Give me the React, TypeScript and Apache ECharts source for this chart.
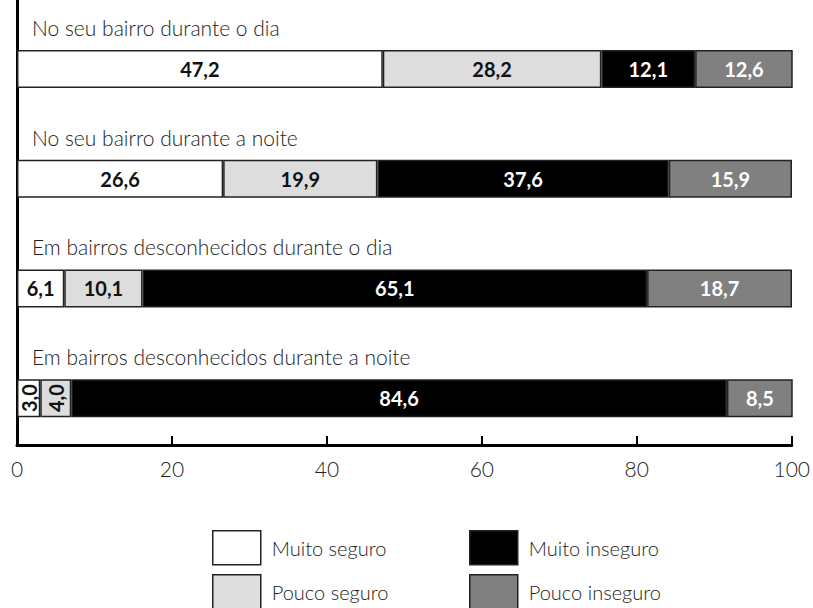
import React, { useEffect, useRef } from "react";
import * as echarts from "echarts";

const categories = [
  "No seu bairro durante o dia",
  "No seu bairro durante a noite",
  "Em bairros desconhecidos durante o dia",
  "Em bairros desconhecidos durante a noite",
];
const seriesNames = ["Muito seguro", "Pouco seguro", "Muito inseguro", "Pouco inseguro"];
const muitoSeguro = [47.2, 26.6, 6.1, 3.0];
const poucoSeguro = [28.2, 19.9, 10.1, 4.0];
const muitoInseguro = [12.1, 37.6, 65.1, 84.6];
const poucoInseguro = [12.6, 15.9, 18.7, 8.5];
const xTicks = [0, 20, 40, 60, 80, 100];

const colors = ["#ffffff", "#dddddd", "#000000", "#808080"];
const labelColors = ["#111111", "#111111", "#ffffff", "#ffffff"];
const FONT = "Lato, 'Open Sans', sans-serif";
const legendSlots = [
  { left: 212, top: 530 },
  { left: 212, top: 574 },
  { left: 469, top: 530 },
  { left: 469, top: 574 },
];

export default function App() {
  const ref = useRef<HTMLDivElement>(null);
  useEffect(() => {
    if (!ref.current) return;
    const chart = echarts.init(ref.current, null, { renderer: "svg" });
    const values = [muitoSeguro, poucoSeguro, muitoInseguro, poucoInseguro];
    const series = seriesNames.map((name, i) => ({
      name,
      type: "bar",
      stack: "total",
      xAxisIndex: 1,
      yAxisIndex: 1,
      barWidth: 38,
      itemStyle: { color: colors[i], borderColor: "#222", borderWidth: 1.5 },
      label: {
        show: true,
        position: "inside",
        color: labelColors[i],
        fontFamily: FONT,
        fontWeight: "bold",
        fontSize: 20,
        formatter: (p: any) => Number(p.value).toFixed(1).replace(".", ","),
      },
      data: values[i].map((v) =>
        v < 5 ? { value: v, label: { rotate: 90 } } : { value: v }
      ),
    }));
    const legends = seriesNames.map((name, i) => ({
      data: [name],
      left: legendSlots[i].left,
      top: legendSlots[i].top,
      padding: 0,
      itemWidth: 48,
      itemHeight: 34,
      icon: "rect",
      textStyle: { fontSize: 20, color: "#222", fontFamily: FONT, fontWeight: 300, padding: [0, 0, 0, 6] },
      itemStyle: { borderColor: "#222", borderWidth: 1.5 },
    }));
    chart.setOption({
      animation: false,
      textStyle: { fontFamily: FONT },
      grid: [
        { left: 17, right: 21, top: 0, bottom: 163 },
        { left: 17, right: 21, top: 14, bottom: 155 },
      ],
      xAxis: [
        {
          type: "value",
          gridIndex: 0,
          min: 0,
          max: 100,
          interval: 20,
          axisLine: { show: true, lineStyle: { color: "#000", width: 3 } },
          axisTick: { show: true, inside: true, length: 9, lineStyle: { color: "#000", width: 2 } },
          splitLine: { show: false },
          axisLabel: {
            color: "#222",
            fontSize: 21,
            margin: 13,
            fontFamily: FONT,
            fontWeight: 300,
            formatter: (v: number) => (xTicks.includes(v) ? String(v) : ""),
          },
        },
        {
          type: "value",
          gridIndex: 1,
          min: 0,
          max: 100,
          show: false,
        },
      ],
      yAxis: [
        {
          type: "category",
          gridIndex: 0,
          data: categories,
          axisLine: { show: true, lineStyle: { color: "#000", width: 3 } },
          axisTick: { show: false },
          axisLabel: { show: false },
        },
        {
          type: "category",
          gridIndex: 1,
          data: categories,
          inverse: true,
          axisLine: { show: false },
          axisTick: { show: false },
          axisLabel: {
            show: true,
            inside: true,
            margin: 15,
            color: "#222",
            fontSize: 21,
            fontFamily: FONT,
            fontWeight: 300,
            verticalAlign: "bottom",
            padding: [0, 0, 31, 0],
          },
          z: 10,
        },
      ],
      legend: legends,
      series,
    });
    return () => chart.dispose();
  }, []);
  return <div ref={ref} style={{ width: 813, height: 608, position: "absolute", left: 0, top: 0 }} />;
}
